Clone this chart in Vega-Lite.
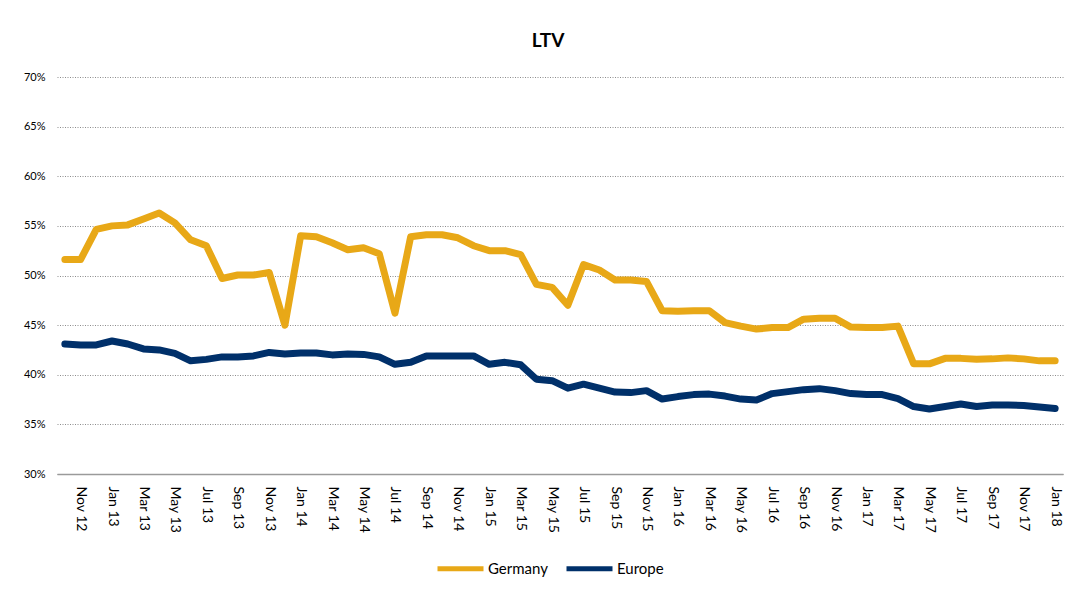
{
  "$schema": "https://vega.github.io/schema/vega-lite/v6.json",
  "autosize": {"type": "none"},
  "padding": {"left": 57, "top": 77, "right": 13, "bottom": 118},
  "width": 1006,
  "height": 397,
  "background": "white",
  "title": {"text": "LTV", "fontSize": 19, "fontWeight": "bold", "font": "Lato", "color": "#000000", "offset": 20, "dx": -12, "anchor": "middle"},
  "config": {"font": "Lato", "view": {"stroke": null}},
  "data": {"values": [
    {"month":"Oct 12","series":"Germany","value":51.6},{"month":"Nov 12","series":"Germany","value":51.6},{"month":"Dec 12","series":"Germany","value":54.65},
    {"month":"Jan 13","series":"Germany","value":55.0},{"month":"Feb 13","series":"Germany","value":55.1},{"month":"Mar 13","series":"Germany","value":55.7},
    {"month":"Apr 13","series":"Germany","value":56.3},{"month":"May 13","series":"Germany","value":55.3},{"month":"Jun 13","series":"Germany","value":53.6},
    {"month":"Jul 13","series":"Germany","value":53.0},{"month":"Aug 13","series":"Germany","value":49.7},{"month":"Sep 13","series":"Germany","value":50.05},
    {"month":"Oct 13","series":"Germany","value":50.05},{"month":"Nov 13","series":"Germany","value":50.3},{"month":"Dec 13","series":"Germany","value":45.0},
    {"month":"Jan 14","series":"Germany","value":54.0},{"month":"Feb 14","series":"Germany","value":53.9},{"month":"Mar 14","series":"Germany","value":53.3},
    {"month":"Apr 14","series":"Germany","value":52.6},{"month":"May 14","series":"Germany","value":52.8},{"month":"Jun 14","series":"Germany","value":52.2},
    {"month":"Jul 14","series":"Germany","value":46.2},{"month":"Aug 14","series":"Germany","value":53.9},{"month":"Sep 14","series":"Germany","value":54.1},
    {"month":"Oct 14","series":"Germany","value":54.1},{"month":"Nov 14","series":"Germany","value":53.8},{"month":"Dec 14","series":"Germany","value":53.0},
    {"month":"Jan 15","series":"Germany","value":52.5},{"month":"Feb 15","series":"Germany","value":52.5},{"month":"Mar 15","series":"Germany","value":52.1},
    {"month":"Apr 15","series":"Germany","value":49.1},{"month":"May 15","series":"Germany","value":48.8},{"month":"Jun 15","series":"Germany","value":47.0},
    {"month":"Jul 15","series":"Germany","value":51.1},{"month":"Aug 15","series":"Germany","value":50.55},{"month":"Sep 15","series":"Germany","value":49.55},
    {"month":"Oct 15","series":"Germany","value":49.55},{"month":"Nov 15","series":"Germany","value":49.4},{"month":"Dec 15","series":"Germany","value":46.45},
    {"month":"Jan 16","series":"Germany","value":46.4},{"month":"Feb 16","series":"Germany","value":46.45},{"month":"Mar 16","series":"Germany","value":46.45},
    {"month":"Apr 16","series":"Germany","value":45.25},{"month":"May 16","series":"Germany","value":44.9},{"month":"Jun 16","series":"Germany","value":44.6},
    {"month":"Jul 16","series":"Germany","value":44.75},{"month":"Aug 16","series":"Germany","value":44.75},{"month":"Sep 16","series":"Germany","value":45.6},
    {"month":"Oct 16","series":"Germany","value":45.7},{"month":"Nov 16","series":"Germany","value":45.7},{"month":"Dec 16","series":"Germany","value":44.8},
    {"month":"Jan 17","series":"Germany","value":44.75},{"month":"Feb 17","series":"Germany","value":44.75},{"month":"Mar 17","series":"Germany","value":44.9},
    {"month":"Apr 17","series":"Germany","value":41.1},{"month":"May 17","series":"Germany","value":41.1},{"month":"Jun 17","series":"Germany","value":41.65},
    {"month":"Jul 17","series":"Germany","value":41.65},{"month":"Aug 17","series":"Germany","value":41.55},{"month":"Sep 17","series":"Germany","value":41.6},
    {"month":"Oct 17","series":"Germany","value":41.7},{"month":"Nov 17","series":"Germany","value":41.6},{"month":"Dec 17","series":"Germany","value":41.4},
    {"month":"Jan 18","series":"Germany","value":41.4},
    {"month":"Oct 12","series":"Europe","value":43.1},{"month":"Nov 12","series":"Europe","value":43.0},{"month":"Dec 12","series":"Europe","value":43.0},
    {"month":"Jan 13","series":"Europe","value":43.4},{"month":"Feb 13","series":"Europe","value":43.1},{"month":"Mar 13","series":"Europe","value":42.6},
    {"month":"Apr 13","series":"Europe","value":42.5},{"month":"May 13","series":"Europe","value":42.15},{"month":"Jun 13","series":"Europe","value":41.4},
    {"month":"Jul 13","series":"Europe","value":41.55},{"month":"Aug 13","series":"Europe","value":41.8},{"month":"Sep 13","series":"Europe","value":41.8},
    {"month":"Oct 13","series":"Europe","value":41.9},{"month":"Nov 13","series":"Europe","value":42.25},{"month":"Dec 13","series":"Europe","value":42.1},
    {"month":"Jan 14","series":"Europe","value":42.2},{"month":"Feb 14","series":"Europe","value":42.2},{"month":"Mar 14","series":"Europe","value":42.0},
    {"month":"Apr 14","series":"Europe","value":42.1},{"month":"May 14","series":"Europe","value":42.05},{"month":"Jun 14","series":"Europe","value":41.8},
    {"month":"Jul 14","series":"Europe","value":41.05},{"month":"Aug 14","series":"Europe","value":41.25},{"month":"Sep 14","series":"Europe","value":41.9},
    {"month":"Oct 14","series":"Europe","value":41.9},{"month":"Nov 14","series":"Europe","value":41.9},{"month":"Dec 14","series":"Europe","value":41.9},
    {"month":"Jan 15","series":"Europe","value":41.05},{"month":"Feb 15","series":"Europe","value":41.25},{"month":"Mar 15","series":"Europe","value":41.0},
    {"month":"Apr 15","series":"Europe","value":39.55},{"month":"May 15","series":"Europe","value":39.4},{"month":"Jun 15","series":"Europe","value":38.65},
    {"month":"Jul 15","series":"Europe","value":39.05},{"month":"Aug 15","series":"Europe","value":38.65},{"month":"Sep 15","series":"Europe","value":38.25},
    {"month":"Oct 15","series":"Europe","value":38.2},{"month":"Nov 15","series":"Europe","value":38.4},{"month":"Dec 15","series":"Europe","value":37.55},
    {"month":"Jan 16","series":"Europe","value":37.8},{"month":"Feb 16","series":"Europe","value":38.0},{"month":"Mar 16","series":"Europe","value":38.05},
    {"month":"Apr 16","series":"Europe","value":37.85},{"month":"May 16","series":"Europe","value":37.55},{"month":"Jun 16","series":"Europe","value":37.45},
    {"month":"Jul 16","series":"Europe","value":38.1},{"month":"Aug 16","series":"Europe","value":38.3},{"month":"Sep 16","series":"Europe","value":38.5},
    {"month":"Oct 16","series":"Europe","value":38.6},{"month":"Nov 16","series":"Europe","value":38.4},{"month":"Dec 16","series":"Europe","value":38.1},
    {"month":"Jan 17","series":"Europe","value":38.0},{"month":"Feb 17","series":"Europe","value":38.0},{"month":"Mar 17","series":"Europe","value":37.6},
    {"month":"Apr 17","series":"Europe","value":36.8},{"month":"May 17","series":"Europe","value":36.55},{"month":"Jun 17","series":"Europe","value":36.8},
    {"month":"Jul 17","series":"Europe","value":37.05},{"month":"Aug 17","series":"Europe","value":36.8},{"month":"Sep 17","series":"Europe","value":36.95},
    {"month":"Oct 17","series":"Europe","value":36.95},{"month":"Nov 17","series":"Europe","value":36.9},{"month":"Dec 17","series":"Europe","value":36.75},
    {"month":"Jan 18","series":"Europe","value":36.6}
  ]},
  "mark": {"type": "line", "strokeWidth": 7, "strokeCap": "round", "strokeJoin": "round"},
  "encoding": {
    "x": {
      "field": "month", "type": "ordinal", "sort": null,
      "scale": {"type": "point", "padding": 0.5},
      "axis": {
        "title": null,
        "values": ["Nov 12","Jan 13","Mar 13","May 13","Jul 13","Sep 13","Nov 13","Jan 14","Mar 14","May 14","Jul 14","Sep 14","Nov 14","Jan 15","Mar 15","May 15","Jul 15","Sep 15","Nov 15","Jan 16","Mar 16","May 16","Jul 16","Sep 16","Nov 16","Jan 17","Mar 17","May 17","Jul 17","Sep 17","Nov 17","Jan 18"],
        "labelAngle": 90, "labelAlign": "left", "labelBaseline": "middle",
        "labelFontSize": 14, "labelColor": "#000000", "labelPadding": 12,
        "ticks": false, "grid": false,
        "domainColor": "#9a9a9a", "domainWidth": 1.3
      }
    },
    "y": {
      "field": "value", "type": "quantitative",
      "scale": {"domain": [30, 70], "nice": false, "zero": false},
      "axis": {
        "title": null, "values": [30,35,40,45,50,55,60,65,70],
        "labelExpr": "datum.value + '%'",
        "labelFontSize": 11, "labelColor": "#000000", "labelPadding": 12,
        "ticks": false, "domain": false,
        "grid": true, "gridColor": "#8c8c8c", "gridDash": [1, 1.5], "gridWidth": 1
      }
    },
    "color": {
      "field": "series", "type": "nominal",
      "scale": {"domain": ["Germany", "Europe"], "range": ["#E8A817", "#00306A"]},
      "legend": {
        "title": null, "orient": "none", "direction": "horizontal",
        "legendX": 378, "legendY": 466,
        "symbolType": "stroke", "symbolSize": 2116, "symbolStrokeWidth": 5,
        "labelFontSize": 15, "labelColor": "#000000", "labelOffset": 2,
        "columnPadding": 8
      }
    }
  }
}
